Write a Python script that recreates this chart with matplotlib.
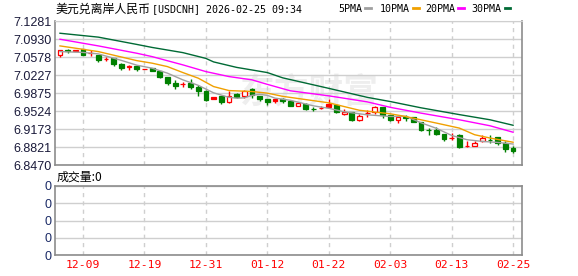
import matplotlib
matplotlib.use("Agg")
import matplotlib.pyplot as plt
from matplotlib.lines import Line2D
import numpy as np

# ---------------- data ----------------
open_ = [7.0618,7.0715,7.0707,7.0731,7.0653,7.0624,7.0542,7.0559,7.0448,7.0390,
         7.0415,7.0347,7.0364,7.0302,7.0189,7.0084,7.0053,7.0073,6.9994,6.9928,
         6.9800,6.9825,6.9708,6.9858,6.9815,6.9952,6.9819,6.9767,6.9757,6.9757,
         6.9728,6.9636,6.9669,6.9568,6.9582,6.9669,6.9650,6.9469,6.9500,6.9344,
         6.9484,6.9500,6.9605,6.9446,6.9348,6.9407,6.9403,6.9305,6.9157,6.9150,
         6.9085,6.9004,6.9052,6.8848,6.8852,6.8936,6.8973,6.9013,6.8904,6.8807]
close = [7.0711,7.0702,7.0717,7.0618,7.0659,7.0526,7.0548,7.0448,7.0364,7.0399,
         7.0351,7.0353,7.0317,7.0189,7.0078,7.0020,7.0059,6.9994,6.9928,6.9747,
         6.9767,6.9708,6.9825,6.9812,6.9928,6.9845,6.9761,6.9708,6.9724,6.9718,
         6.9636,6.9689,6.9572,6.9562,6.9588,6.9605,6.9500,6.9504,6.9344,6.9422,
         6.9490,6.9605,6.9455,6.9348,6.9416,6.9401,6.9313,6.9163,6.9150,6.9085,
         6.8988,6.9012,6.8826,6.8856,6.8904,6.9002,6.8965,6.8904,6.8793,6.8741]
high = [7.0721,7.0740,7.0727,7.0735,7.0721,7.0624,7.0579,7.0565,7.0458,7.0429,
        7.0429,7.0357,7.0370,7.0312,7.0195,7.0137,7.0104,7.0150,7.0039,6.9932,
        6.9806,6.9825,6.9928,6.9877,6.9942,6.9975,6.9825,6.9772,6.9761,6.9786,
        6.9738,6.9698,6.9679,6.9605,6.9630,6.9767,6.9669,6.9566,6.9504,6.9475,
        6.9553,6.9630,6.9611,6.9455,6.9426,6.9455,6.9407,6.9309,6.9196,6.9208,
        6.9085,6.9095,6.9085,6.8936,6.8936,6.9066,6.9052,6.9017,6.8936,6.8838]
low = [7.0575,7.0657,7.0702,7.0614,7.0604,7.0493,7.0512,7.0415,7.0331,7.0337,
       7.0317,7.0341,7.0312,7.0166,7.0039,6.9955,6.9994,6.9955,6.9831,6.9733,
       6.9761,6.9669,6.9683,6.9780,6.9792,6.9780,6.9728,6.9650,6.9683,6.9689,
       6.9630,6.9630,6.9553,6.9520,6.9566,6.9586,6.9488,6.9455,6.9325,6.9325,
       6.9410,6.9475,6.9391,6.9325,6.9300,6.9338,6.9305,6.9144,6.9056,6.9056,
       6.8936,6.8959,6.8813,6.8819,6.8838,6.8924,6.8904,6.8871,6.8729,6.8709]

ma5_idx = [0,3,5,8,10,12,14,16,18,20,22,23,24,25,26,27,28,30,33,35,37,40,43,45,47,49,51,53,55,57,59]
ma5_val = [7.0688,7.0672,7.0643,7.0516,7.0423,7.0364,7.0267,7.0137,7.0030,6.9884,
           6.9796,6.9780,6.9786,6.9835,6.9854,6.9835,6.9780,6.9738,6.9630,6.9582,
           6.9514,6.9455,6.9422,6.9426,6.9300,6.9192,6.9052,6.8969,6.8936,6.8916,6.8885]
ma10_idx = [0,5,10,12,14,16,18,20,22,25,27,29,35,39,43,45,47,49,52,54,56,59]
ma10_val = [7.0799,7.0688,7.0512,7.0462,7.0395,7.0279,7.0170,7.0006,6.9928,6.9909,
            6.9878,6.9815,6.9689,6.9543,6.9475,6.9422,6.9358,6.9294,6.9196,6.9066,
            6.9002,6.8920]
ma20_idx = [0,5,10,12,16,19,22,25,27,30,35,40,43,47,52,56,59]
ma20_val = [7.0929,7.0799,7.0656,7.0590,7.0429,7.0298,7.0201,7.0137,7.0049,6.9923,
            6.9825,6.9708,6.9601,6.9488,6.9358,6.9241,6.9115]
ma30_idx = [0,5,10,12,16,19,20,23,27,29,35,40,43,47,52,56,59]
ma30_val = [7.1046,7.0970,7.0828,7.0769,7.0668,7.0555,7.0487,7.0380,7.0279,7.0176,
            6.9971,6.9796,6.9714,6.9592,6.9459,6.9358,6.9251]

tick_idx = [3, 11, 19, 27, 35, 43, 51, 59]
tick_labels = ['12-09', '12-19', '12-31', '01-12', '01-22', '02-03', '02-13', '02-25']
price_ticks = [6.8470, 6.8821, 6.9173, 6.9524, 6.9875, 7.0227, 7.0578, 7.0930, 7.1281]
vol_ticks = [0, 1, 2, 3, 4]
volume_total = 0

title_cn = '美元兑离岸人民币'
title_en = '[USDCNH] 2026-02-25 09:34'
ma_names = ['5PMA', '10PMA', '20PMA', '30PMA']
ma_colors = ['#a0a0a0', '#f0a000', '#ff00ff', '#006a35']

# ---------------- layout ----------------
W, H = 578, 276
fig = plt.figure(figsize=(W / 100, H / 100), dpi=100)
L, R = 55.3, 522.0
pt, pb = 21.2, 165.3
vt, vb = 186.0, 255.3
ax = fig.add_axes([L / W, 1 - pb / H, (R - L) / W, (pb - pt) / H])
axv = fig.add_axes([L / W, 1 - vb / H, (R - L) / W, (vb - vt) / H])

RED = '#ff0000'
GRN = '#008000'
n = len(close)
x = np.arange(n)
xlim = (-0.61, 60.16)

# watermark
ax.text(0.545, 0.51, '东方财富', transform=ax.transAxes, fontsize=25,
        family='Noto Sans CJK SC', color='#eeeeee', ha='center', va='center',
        fontweight='bold', zorder=0.5)

# candles
for i in range(n):
    o, c, h, l = open_[i], close[i], high[i], low[i]
    ref = close[i - 1] if i > 0 else o
    up = c >= ref
    col = RED if up else GRN
    hollow = up and c > o
    ax.vlines(x[i], l, h, color=col, linewidth=1.0, zorder=2)
    bot = min(o, c)
    ht = max(abs(c - o), 0.00035)
    ax.bar(x[i], ht, bottom=bot, width=0.62,
           facecolor='white' if hollow else col, edgecolor=col,
           linewidth=0.9, zorder=3)

# moving averages
for idx, val, col in zip([ma5_idx, ma10_idx, ma20_idx, ma30_idx],
                         [ma5_val, ma10_val, ma20_val, ma30_val], ma_colors):
    ax.plot(idx, val, color=col, linewidth=1.0, zorder=4)

ax.set_xlim(*xlim)
ax.set_ylim(price_ticks[0], price_ticks[-1])
ax.set_yticks(price_ticks)
ax.set_yticklabels([f'{v:.4f}' for v in price_ticks], family='Liberation Sans',
                   fontsize=9, color='#1a1a3a')
ax.set_xticks(tick_idx)
ax.set_xticklabels([])
ax.tick_params(length=0, pad=2.5)
ax.grid(axis='y', color='#cfcfcf', linewidth=1.0, linestyle='-')
ax.grid(axis='x', color='#cfcfcf', linewidth=1.0, linestyle=(0, (3, 3)))
ax.set_axisbelow(True)
for s in ['left', 'bottom', 'right']:
    ax.spines[s].set_color('#8c8c8c')
    ax.spines[s].set_linewidth(1.2)
ax.spines['top'].set_color('#cfcfcf')

# volume panel
axv.set_xlim(*xlim)
axv.set_ylim(vol_ticks[0], vol_ticks[-1])
axv.set_yticks(vol_ticks)
axv.set_yticklabels(['0'] * len(vol_ticks), family='Liberation Sans',
                    fontsize=9, color='#1a2a66')
axv.set_xticks(tick_idx)
axv.set_xticklabels(tick_labels, family='DejaVu Sans Mono', fontsize=8.2, color=RED)
axv.tick_params(length=0, pad=2.5)
axv.tick_params(axis='x', pad=3.5)
axv.grid(axis='y', color='#cfcfcf', linewidth=1.0, linestyle='-')
axv.grid(axis='x', color='#cfcfcf', linewidth=1.0, linestyle=(0, (3, 3)))
axv.set_axisbelow(True)
for s in axv.spines.values():
    s.set_color('#8c8c8c')
    s.set_linewidth(1.2)

# texts
def fx(px):
    return px / W

def fy(py):
    return 1 - py / H

fig.text(fx(55), fy(9.5), title_cn, family='Noto Sans CJK SC', fontsize=8.6,
         color='black', va='center', ha='left')
fig.text(fx(151.5), fy(9.5), title_en, family='DejaVu Sans Mono', fontsize=7.2,
         color='black', va='center', ha='left')

leg_x = [338.0, 380.0, 425.3, 471.7]
for name, col, lx in zip(ma_names, ma_colors, leg_x):
    t = fig.text(fx(lx), fy(9.5), name, family='DejaVu Sans Mono', fontsize=7.2,
                 color='black', va='center', ha='left')
    tw = len(name) * 6.02
    fig.add_artist(Line2D([fx(lx + tw + 3), fx(lx + tw + 8.5)], [fy(8.3), fy(8.3)],
                          color=col, linewidth=2.0, transform=fig.transFigure))

fig.text(fx(57), fy(177.5), f'成交量:{volume_total}', family='Noto Sans CJK SC',
         fontsize=8.6, color='black', va='center', ha='left')

fig.savefig('out.png', dpi=100, facecolor='white')
